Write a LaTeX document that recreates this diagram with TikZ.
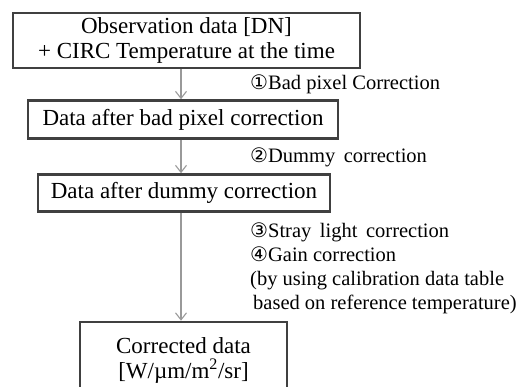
\documentclass[tikz,border=0pt]{standalone}
\usepackage{fontspec}
\setmainfont{Liberation Serif}
\newfontfamily\circfont{DejaVu Sans}
\usetikzlibrary{arrows.meta}
\newcommand{\circnum}[1]{{\circfont\fontsize{20pt}{20pt}\selectfont #1}}
\begin{document}
\begin{tikzpicture}[x=1pt, y=-1pt,
    databox/.style={draw=black!75, line width=2.6pt, fill=white, align=center,
      inner sep=0pt, font=\fontsize{23pt}{25pt}\selectfont},
    flow/.style={draw=black!40, line width=1.1pt, -{Straight Barb[length=7pt,width=11pt]}},
    steplabel/.style={anchor=west, inner sep=0pt, align=left,
      font=\fontsize{20.5pt}{24pt}\selectfont}]
  \useasboundingbox (0,0) rectangle (521,386);
  \clip (0,0) rectangle (521,386);
  \coordinate (ax) at (181,0);
  \node [databox, minimum width=347pt, minimum height=55pt] (obs) at (186.5,40.5)
    {Observation data [DN]\\+ CIRC Temperature at the time};
  \node [databox, minimum width=310pt, minimum height=38pt] (badpix) at (183,119.5)
    {Data after bad pixel correction};
  \node [databox, minimum width=292pt, minimum height=37pt] (dummy) at (184,193)
    {Data after dummy correction};
  \node [databox, minimum width=207pt, minimum height=76pt] (result) at (183.5,360)
    {Corrected data\\{}[W/\textmu m/m\textsuperscript{2}/sr]};
  \draw [flow] (obs.south -| ax) -- (badpix.north -| ax);
  \draw [flow] (badpix.south -| ax) -- (dummy.north -| ax);
  \draw [flow] (dummy.south -| ax) -- (result.north -| ax);
  \node [steplabel] (lbl1) at (250,84) {\circnum{①}Bad pixel Correction};
  \node [steplabel] (lbl2) at (250,157) {\circnum{②}Dummy\, correction};
  \node [steplabel, anchor=north west] (lbl3) at (250,223)
    {\circnum{③}Stray\, light\, correction\\
     \circnum{④}Gain correction\\
     (by using calibration data table\\
     \hspace{3pt}based on reference temperature)};
\end{tikzpicture}
\end{document}
